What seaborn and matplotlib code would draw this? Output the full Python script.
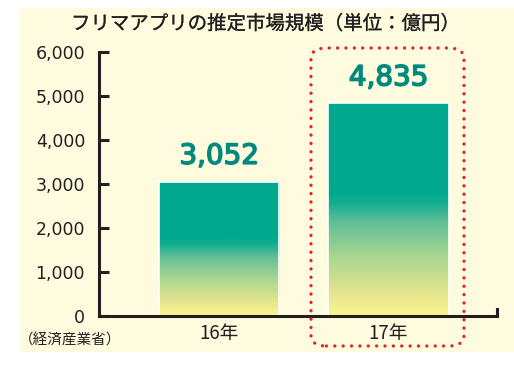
import numpy as np
import pandas as pd
import matplotlib
matplotlib.use("Agg")
import matplotlib.pyplot as plt
import matplotlib.patheffects as pe
import seaborn as sns
from matplotlib.patches import Rectangle, FancyBboxPatch
from matplotlib.colors import LinearSegmentedColormap
from matplotlib.lines import Line2D

categories = ["16年", "17年"]
values = [3052, 4835]
value_labels = ["3,052", "4,835"]
yticks = [0, 1000, 2000, 3000, 4000, 5000, 6000]
ytick_labels = ["0", "1,000", "2,000", "3,000", "4,000", "5,000", "6,000"]
title = "フリマアプリの推定市場規模（単位：億円）"
source = "（経済産業省）"

INK = "#231F20"
sns.set_theme(style="white")
plt.rcParams['font.family'] = ['DejaVu Sans', 'Noto Sans CJK JP']
JP = ['Noto Sans CJK JP', 'DejaVu Sans']

W, H = 514, 365
fig = plt.figure(figsize=(W / 100, H / 100), dpi=100)
fig.patch.set_facecolor("white")
cream = "#FEFBDE"
fig.patches.append(Rectangle((20 / W, (H - 352) / H), 494 / W, 344 / H,
                             transform=fig.transFigure, facecolor=cream,
                             edgecolor="none", zorder=-10))

ax = fig.add_axes([99 / W, (H - 316) / H, (497 - 99) / W, (316 - 52) / H])
ax.set_facecolor("none")
ax.set_zorder(1)

df = pd.DataFrame({"year": categories, "value": values})
sns.barplot(data=df, x="year", y="value", ax=ax, color="#00A891",
            width=0.71, edgecolor="white", linewidth=1.2)

teal = "#00A890"
cmap = LinearSegmentedColormap.from_list(
    "g", [(0.0, "#FFF58E"), (0.12, "#E0E48E"), (0.28, "#A8D690"),
          (0.44, "#62BE98"), (0.53, "#14B08F"), (0.58, teal), (1.0, teal)])
grad = np.linspace(0, 1, 256).reshape(-1, 1)
for p in list(ax.patches):
    x0, y0 = p.get_x(), p.get_y()
    w, h = p.get_width(), p.get_height()
    im = ax.imshow(grad, cmap=cmap, origin="lower", aspect="auto",
                   extent=[x0, x0 + w, y0, y0 + h], zorder=1.5)
    im.set_clip_path(p)
    p.set_facecolor("none")
    p.set_zorder(2)
ax.set_xlim(-0.71, 1.64)
ax.set_ylim(0, 6000)

for i, (v, lab) in enumerate(zip(values, value_labels)):
    t = ax.text(i, v + 270, lab, ha="center", va="bottom", color="#00897E",
                fontsize=20, family=['DejaVu Sans'])
    t.set_path_effects([pe.withStroke(linewidth=1.1, foreground="#00897E")])

for s in ["top", "right"]:
    ax.spines[s].set_visible(False)
for s in ["left", "bottom"]:
    ax.spines[s].set_color(INK)
    ax.spines[s].set_linewidth(2.2)
    ax.spines[s].set_zorder(3)
    ax.spines[s].set_capstyle("projecting")

ax.set_yticks(yticks)
ax.set_yticklabels(ytick_labels, fontsize=12.5, color=INK)
ax.set_xticks(range(len(categories)))
ax.set_xticklabels(categories, fontsize=13.5, color=INK, family=JP)
ax.tick_params(axis="x", bottom=False, length=0, pad=5)
ax.set_xlabel("")
ax.set_ylabel("")

# inward y ticks drawn as short segments at each tick value
ax.hlines(yticks, 0, 0.024, transform=ax.get_yaxis_transform(), colors=INK,
          linewidth=2.2, zorder=4, clip_on=False)
ax.tick_params(axis="y", left=False, length=0, pad=10)

# small end tick at the right of the x axis
ax.add_line(Line2D([1, 1], [0, 0.025], transform=ax.transAxes, color=INK,
                   lw=2.2, solid_capstyle="projecting", clip_on=False))

# red dotted rounded highlight
box = FancyBboxPatch((311 / W, (H - 346) / H), (464 - 311) / W, (346 - 48) / H,
                     boxstyle="round,pad=0,rounding_size=0.03",
                     transform=fig.transFigure, facecolor="none",
                     edgecolor="#E8202A", linewidth=2.4,
                     linestyle=(0, (0.01, 2.5)), capstyle="round", zorder=5)
fig.patches.append(box)

tt = fig.text(266 / W, 1 - 24 / H, title, ha="center", va="center", fontsize=14,
              color=INK, family=JP)
tt.set_path_effects([pe.withStroke(linewidth=0.15, foreground=INK)])
fig.text(19 / W, 1 - 341 / H, source, ha="left", va="center", fontsize=10.5,
         color=INK, family=JP)

fig.savefig("out.png", dpi=100, facecolor="white")
